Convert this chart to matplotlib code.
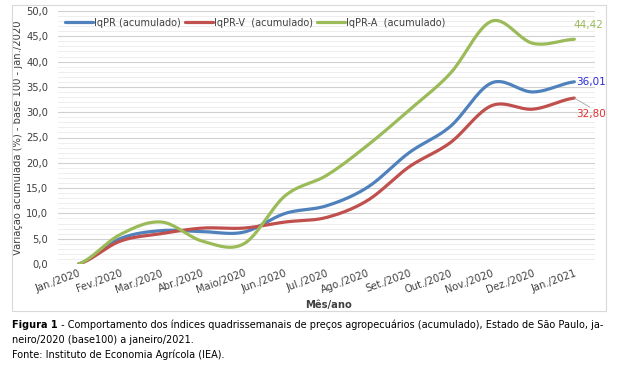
"""
IqPR acumulado - jan/2020 a jan/2021
"""

import numpy as np
import matplotlib
matplotlib.use("Agg")
import matplotlib.pyplot as plt
from matplotlib.patches import Rectangle
from matplotlib.text import Annotation
from matplotlib.ticker import MultipleLocator, FuncFormatter

plt.rcParams['font.family'] = ['DejaVu Sans']

# Dados
meses = ["Jan./2020", "Fev./2020", "Mar./2020", "Abr./2020", "Maio/2020",
         "Jun./2020", "Jul./2020", "Ago./2020", "Set./2020", "Out./2020",
         "Nov./2020", "Dez./2020", "Jan./2021"]
iqpr   = [0.0, 5.0, 6.6, 6.4, 6.3, 10.0, 11.5, 15.2, 22.0, 27.2, 35.8, 34.0, 36.01]
iqpr_v = [0.0, 4.5, 6.0, 7.1, 7.1, 8.3, 9.2, 12.6, 19.2, 24.0, 31.3, 30.6, 32.80]
iqpr_a = [0.0, 5.8, 8.3, 4.5, 4.0, 13.5, 17.5, 23.5, 30.4, 37.7, 48.0, 43.6, 44.42]

series = [
    ("IqPR (acumulado)",     iqpr,   "#4F81BD"),
    ("IqPR-V  (acumulado)",  iqpr_v, "#C0504D"),
    ("IqPR-A  (acumulado)",  iqpr_a, "#9BBB59"),
]


def smooth(y, n=20):
    """Catmull-Rom, igual à linha suavizada do Excel."""
    y = np.asarray(y, dtype=float)
    x = np.arange(len(y), dtype=float)
    p = np.concatenate([[y[0]], y, [y[-1]]])
    xs, ys = [], []
    for i in range(len(y) - 1):
        p0, p1, p2, p3 = p[i], p[i + 1], p[i + 2], p[i + 3]
        t = np.linspace(0, 1, n, endpoint=False)
        yy = 0.5 * ((2 * p1) + (-p0 + p2) * t
                    + (2 * p0 - 5 * p1 + 4 * p2 - p3) * t ** 2
                    + (-p0 + 3 * p1 - 3 * p2 + p3) * t ** 3)
        xs.append(x[i] + t)
        ys.append(yy)
    xs.append([x[-1]])
    ys.append([y[-1]])
    return np.concatenate(xs), np.concatenate(ys)


fig = plt.figure(figsize=(6.2, 3.65), dpi=100)
ax = fig.add_axes([58 / 620, 1 - 264 / 365, (595 - 58) / 620, (264 - 11) / 365])

# moldura do gráfico
fig.patches.append(Rectangle((12 / 620, 1 - 311 / 365), 594 / 620, 306 / 365,
                             transform=fig.transFigure, fill=False,
                             edgecolor="#D9D9D9", linewidth=0.8))

x = np.arange(len(meses))
for label, vals, color in series:
    xs, ys = smooth(vals)
    ax.plot(xs, ys, color=color, linewidth=2.3, label=label, solid_capstyle="round")

# rótulos do último ponto
ax.annotate("44,42", xy=(x[-1], iqpr_a[-1]), xytext=(-0.5, 10),
            textcoords="offset points", color="#9BBB59", fontsize=7.5,
            va="center", ha="left")
ax.annotate("36,01", xy=(x[-1], iqpr[-1]), xytext=(1.5, 0),
            textcoords="offset points", color="#2B2BD6", fontsize=7.5,
            va="center", ha="left")
ax.annotate("32,80", xy=(x[-1], iqpr_v[-1]), xytext=(1.5, -11.5),
            textcoords="offset points", color="#E0302F", fontsize=7.5,
            va="center", ha="left")
ax.annotate("", xy=(x[-1], iqpr_v[-1]), xytext=(11, -6.5),
            textcoords="offset points",
            arrowprops=dict(arrowstyle="-", color="#A6A6A6", lw=0.6,
                            shrinkA=0, shrinkB=0))

ax.set_xlim(-0.5, len(meses) - 0.5)
ax.set_ylim(0, 50)
ax.yaxis.set_major_locator(MultipleLocator(5))
ax.yaxis.set_minor_locator(MultipleLocator(1))
ax.yaxis.set_major_formatter(FuncFormatter(lambda v, p: f"{v:.1f}".replace(".", ",")))
ax.grid(True, which="major", axis="y", color="#D0D0D0", linewidth=0.8)
ax.grid(True, which="minor", axis="y", color="#EBEBEB", linewidth=0.6)
ax.set_axisbelow(True)

ax.set_xticks(x)
ax.set_xticklabels(meses, rotation=20, ha="right", rotation_mode="anchor")
ax.tick_params(axis="x", length=0, labelsize=7.2, pad=3, colors="#404040")
ax.tick_params(axis="y", which="both", length=0, labelsize=7.2, pad=7,
               colors="#404040")
for s in ax.spines.values():
    s.set_visible(False)

ax.set_ylabel("Variação acumulada (%) - base 100 - jan./2020", fontsize=7.2,
              color="#404040", labelpad=2)
fig.text(328 / 620, 1 - 305 / 365, "Mês/ano", ha="center", va="center",
         fontsize=7.2, fontweight="bold", color="#404040")

leg = ax.legend(loc="upper left", bbox_to_anchor=(0.0, 1.0), ncol=3, frameon=False,
                fontsize=7.0, handlelength=2.9, handletextpad=0.15,
                columnspacing=0.35, borderaxespad=0.3)
for t in leg.get_texts():
    t.set_color("#404040")

# legenda da figura
t1 = fig.text(12 / 620, 1 - 325 / 365, "Figura 1", ha="left", va="center",
              fontsize=7.0, fontweight="bold")
fig.add_artist(Annotation(
    " - Comportamento dos índices quadrissemanais de preços agropecuários "
    "(acumulado), Estado de São Paulo, ja-",
    xy=(1, 0.5), xycoords=t1, ha="left", va="center", fontsize=7.0))
fig.text(12 / 620, 1 - 340 / 365, "neiro/2020 (base100) a janeiro/2021.",
         ha="left", va="center", fontsize=7.0)
fig.text(12 / 620, 1 - 355 / 365, "Fonte: Instituto de Economia Agrícola (IEA).",
         ha="left", va="center", fontsize=7.0)

fig.savefig("out.png", dpi=100)
